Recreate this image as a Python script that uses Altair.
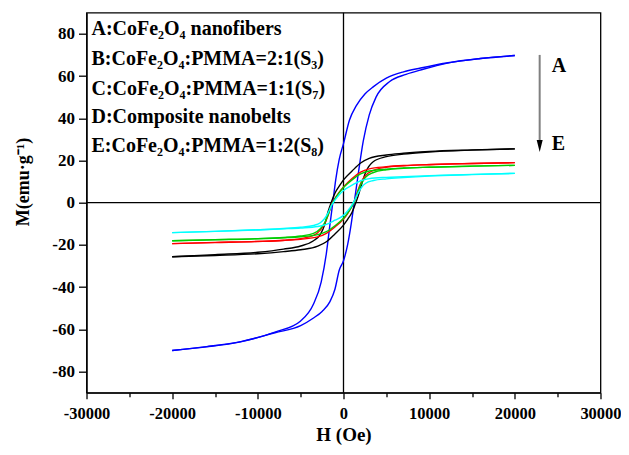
import altair as alt
import pandas as pd

# ---------------- data ----------------
UP_H = [20000, 15000, 10000, 7000, 5000, 3000, 2000, 1000, 0, -500, -1000, -1400,
        -1800, -2200, -2700, -3500, -5000, -7000, -10000, -15000, -20000]
LOW_H = [-20000, -15000, -10000, -7000, -5000, -3000, -2000, -1000, 0, 500, 1000, 1300,
         1700, 2100, 2600, 3500, 5000, 7000, 10000, 15000, 20000]

# A : CoFe2O4 nanofibers (blue)
A_UP_H = [20000, 16000, 12000, 9000, 7000, 5000, 3500, 2500, 1500, 700, 0, -500, -900,
          -1250, -1600, -2000, -2600, -3500, -5000, -8000, -12000, -16000, -20000]
A_UP_M = [69.7, 68.3, 66.2, 63.8, 62.0, 59.0, 55.0, 51.5, 46.0, 39.2, 28.0, 20.5, 11.0,
          0.0, -11.0, -24.0, -37.5, -48.0, -56.0, -61.3, -65.8, -68.2, -70.0]
A_LOW_H = [-20000, -16000, -12000, -8000, -5000, -3500, -2500, -1600, -1000, -500, 0, 500,
           900, 1250, 1700, 2300, 3000, 3800, 5400, 7300, 9300, 12000, 16000, 20000]
A_LOW_M = [-70.0, -68.3, -65.9, -61.6, -58.2, -54.6, -51.5, -47.0, -41.0, -32.0, -27.5, -19.5,
           -10.0, 0.0, 13.0, 29.0, 41.5, 50.0, 57.4, 60.8, 63.2, 66.0, 68.3, 69.7]

# D : composite nanobelts (black)
D_UP_M = [25.5, 25.0, 24.3, 23.4, 22.6, 21.0, 18.8, 15.0, 10.8, 7.8, 4.5, 0.5,
          -4.3, -10.5, -15.0, -18.0, -20.5, -22.0, -23.5, -24.6, -25.6]
D_LOW_M = [-25.6, -25.0, -24.2, -23.2, -22.3, -20.6, -18.5, -14.8, -10.6, -7.8, -4.5, -1.5,
           3.0, 8.5, 14.5, 19.5, 21.8, 23.0, 24.0, 24.9, 25.5]

# B : CoFe2O4:PMMA=2:1 (red)
B_UP_M = [19.0, 18.6, 18.0, 17.6, 17.0, 16.0, 14.5, 11.5, 7.5, 5.0, 2.0, -1.0,
          -6.0, -10.0, -13.0, -15.5, -17.0, -17.8, -18.3, -18.8, -19.4]
B_LOW_M = [-19.4, -18.9, -18.4, -17.9, -17.3, -16.2, -14.5, -11.5, -7.8, -5.0, -1.5, 1.0,
           6.0, 10.0, 13.0, 15.3, 16.8, 17.5, 18.1, 18.6, 19.0]

# C : CoFe2O4:PMMA=1:1 (green)
C_UP_M = [17.7, 17.3, 16.8, 16.4, 15.9, 15.0, 13.6, 10.8, 7.2, 4.8, 1.8, -1.2,
          -5.8, -9.5, -12.3, -14.5, -15.8, -16.5, -17.0, -17.5, -18.0]
C_LOW_M = [-18.0, -17.6, -17.1, -16.6, -16.1, -15.1, -13.7, -10.9, -7.4, -4.8, -1.6, 0.8,
           5.5, 9.3, 12.2, 14.3, 15.6, 16.3, 16.8, 17.3, 17.7]

# E : CoFe2O4:PMMA=1:2 (cyan)
E_UP_M = [13.9, 13.4, 12.8, 12.3, 12.0, 11.4, 10.4, 8.3, 5.8, 3.8, 1.2, -1.3,
          -4.8, -7.5, -9.5, -10.8, -11.6, -12.2, -12.8, -13.6, -14.2]
E_LOW_M = [-14.2, -13.6, -12.9, -12.4, -12.0, -11.3, -10.3, -8.3, -6.0, -3.8, -1.0, 1.2,
           4.5, 7.2, 9.2, 10.5, 11.3, 11.9, 12.6, 13.3, 13.9]

SERIES = ["D", "B", "C", "E", "A"]
COLORS = ["#000000", "#ff0000", "#00cc00", "#00ffff", "#0000ff"]

LEGEND_LINES = [
    "A:CoFe\u2082O\u2084 nanofibers",
    "B:CoFe\u2082O\u2084:PMMA=2:1(S\u2083)",
    "C:CoFe\u2082O\u2084:PMMA=1:1(S\u2087)",
    "D:Composite nanobelts",
    "E:CoFe\u2082O\u2084:PMMA=1:2(S\u2088)",
]
Y_TITLE = "M(emu\u00b7g\u207b\u00b9)"
X_TITLE = "H (Oe)"

X_TICKS = list(range(-30000, 30001, 5000))
Y_TICKS = list(range(-80, 81, 10))

# ---------------- build table ----------------
rows = []
def add(series, branch, hs, ms):
    for h, m in zip(hs, ms):
        rows.append({"series": series, "branch": series + branch, "H": h, "M": m})

add("A", "up", A_UP_H, A_UP_M)
add("A", "low", A_LOW_H, A_LOW_M)
add("D", "up", UP_H, D_UP_M)
add("D", "low", LOW_H, D_LOW_M)
add("B", "up", UP_H, B_UP_M)
add("B", "low", LOW_H, B_LOW_M)
add("C", "up", UP_H, C_UP_M)
add("C", "low", LOW_H, C_LOW_M)
add("E", "up", UP_H, E_UP_M)
add("E", "low", LOW_H, E_LOW_M)
df = pd.DataFrame(rows)

FONT = "Liberation Serif"

xscale = alt.Scale(domain=[-30000, 30000], nice=False, zero=False)
yscale = alt.Scale(domain=[-90, 90], nice=False, zero=False)

xaxis = alt.Axis(
    values=X_TICKS,
    labelExpr="datum.value % 10000 === 0 ? '' + datum.value : ''",
    labelFlush=False,
    labelOverlap=False,
    tickSize={"condition": {"test": "datum.value % 10000 === 0", "value": 6}, "value": 4},
    labelPadding=7,
    labelFontSize=16.5,
    title=X_TITLE,
    titleY=48,
    titleBaseline="alphabetic",
    titleFontSize=19,
)
yaxis = alt.Axis(
    values=Y_TICKS,
    labelExpr="datum.value % 20 === 0 ? '' + datum.value : ''",
    labelFlush=False,
    labelOverlap=False,
    tickSize={"condition": {"test": "datum.value % 20 === 0", "value": 8}, "value": 5},
    labelPadding=4,
    title="",
)

base = alt.Chart(df)

zero_df = pd.DataFrame({"v": [0]})
vline = alt.Chart(zero_df).mark_rule(color="black", strokeWidth=1.3).encode(
    x=alt.X("v:Q", scale=xscale, axis=xaxis))
hline = alt.Chart(zero_df).mark_rule(color="black", strokeWidth=1.3).encode(
    y=alt.Y("v:Q", scale=yscale, axis=yaxis))

lines = base.mark_line(interpolate="monotone", strokeWidth=1.4).encode(
    x=alt.X("H:Q", scale=xscale, axis=xaxis),
    y=alt.Y("M:Q", scale=yscale, axis=yaxis),
    color=alt.Color("series:N", scale=alt.Scale(domain=SERIES, range=COLORS), legend=None),
    detail="branch:N",
)

arrow = alt.Chart(zero_df).mark_rule(color="#808080", strokeWidth=2).encode(
    x=alt.datum(22900), y=alt.datum(70), y2=alt.datum(28))
head = alt.Chart(zero_df).mark_point(
    shape="M -0.6 -1.2 L 0.6 -1.2 L 0 1.2 Z", filled=True, color="black", opacity=1, size=100
).encode(x=alt.datum(22900), y=alt.datum(26.9))

txt_style = dict(align="left", baseline="alphabetic", font=FONT, fontSize=20,
                 fontWeight="bold", color="black")
label_a = alt.Chart(zero_df).mark_text(text="A", **txt_style).encode(
    x=alt.datum(24300), y=alt.datum(62.1))
label_e = alt.Chart(zero_df).mark_text(text="E", **txt_style).encode(
    x=alt.datum(24300), y=alt.datum(25.0))

leg_y = [79.5, 65.3, 51.1, 37.6, 24.2]
legend_df = pd.DataFrame({"t": LEGEND_LINES, "yy": leg_y})
legend_txt = alt.Chart(legend_df).mark_text(**txt_style).encode(
    x=alt.datum(-29420), y=alt.Y("yy:Q", scale=yscale, axis=yaxis), text="t:N")

ytitle = alt.Chart(zero_df).mark_text(
    text=Y_TITLE, angle=270, align="center", baseline="middle", font=FONT,
    fontSize=18, fontWeight="bold", color="black", clip=False
).encode(x=alt.datum(-37300), y=alt.datum(9.8))

chart = alt.layer(vline, hline, lines, arrow, head, label_a, label_e, legend_txt, ytitle).properties(
    width=514, height=380,
    autosize=alt.AutoSizeParams(type="none"),
    padding={"left": 78.5, "top": 4.7, "right": 20.5, "bottom": 53},
    background="white",
).configure_view(stroke="black", strokeWidth=1.3).configure_axis(
    grid=False,
    domainColor="black",
    domainWidth=1.3,
    tickColor="black",
    tickWidth=1.3,
    labelFont=FONT,
    labelFontSize=17,
    labelFontWeight="bold",
    labelColor="black",
    titleFont=FONT,
    titleFontWeight="bold",
    titleColor="black",
)

chart.save("out.html", embed_options={"renderer": "svg", "actions": False})
